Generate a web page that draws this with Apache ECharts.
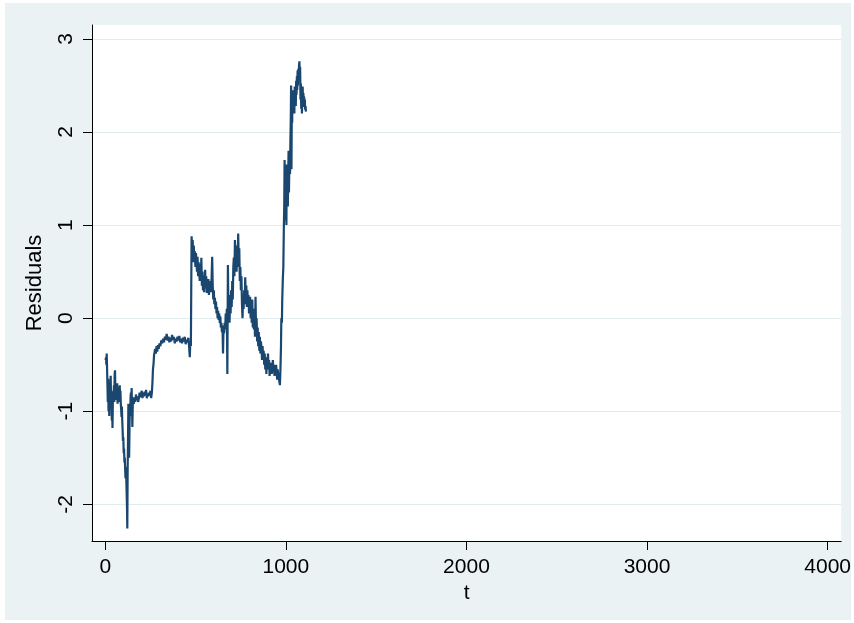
<!DOCTYPE html>
<html>
<head>
<meta charset="utf-8">
<script src="https://cdn.jsdelivr.net/npm/echarts@6/dist/echarts.min.js"></script>
<style>
  html, body { margin: 0; padding: 0; background: #ffffff; }
  #chart { width: 854px; height: 623px; }
</style>
</head>
<body>
<div id="chart"></div>
<script>
// Residuals over time t: [t, residual]
const residuals = [
  [2,-0.45],[4,-0.42],[6,-0.5],[8,-0.38],[10,-0.55],[12,-0.72],[14,-0.9],[16,-0.65],[18,-1.0],[20,-0.78],
  [22,-1.05],[24,-0.85],[26,-0.95],[28,-0.7],[30,-0.62],[32,-0.9],[34,-0.8],[36,-1.1],[38,-0.95],[40,-1.18],
  [42,-0.9],[44,-0.78],[46,-0.85],[48,-0.72],[50,-0.9],[52,-0.6],[54,-0.56],[56,-0.8],[58,-0.72],[60,-0.88],
  [62,-0.75],[64,-0.85],[66,-0.7],[68,-0.92],[70,-0.78],[72,-0.82],[74,-0.74],[76,-0.9],[78,-0.8],[80,-0.72],
  [82,-0.85],[84,-0.78],[86,-0.92],[88,-0.98],[90,-1.06],[92,-0.95],[94,-1.1],[96,-1.2],[98,-1.32],[100,-1.28],
  [102,-1.45],[104,-1.4],[106,-1.55],[108,-1.5],[110,-1.62],[112,-1.72],[114,-1.6],[116,-1.7],[118,-1.85],[120,-2.0],
  [122,-2.26],[124,-1.6],[126,-1.3],[128,-0.92],[130,-1.1],[132,-1.5],[134,-1.2],[136,-0.95],[138,-1.05],[140,-0.85],
  [142,-0.8],[144,-0.9],[146,-0.75],[148,-0.95],[150,-1.17],[152,-0.95],[154,-0.85],[158,-0.92],[162,-0.85],[166,-0.9],
  [170,-0.82],[174,-0.88],[178,-0.84],[182,-0.9],[186,-0.86],[190,-0.8],[194,-0.85],[198,-0.83],[202,-0.78],[206,-0.86],
  [210,-0.8],[214,-0.84],[218,-0.79],[222,-0.83],[226,-0.77],[230,-0.86],[234,-0.81],[238,-0.84],[242,-0.8],[246,-0.83],
  [250,-0.78],[254,-0.86],[258,-0.8],[261,-0.7],[264,-0.55],[267,-0.5],[270,-0.4],[273,-0.38],[276,-0.33],[280,-0.38],
  [284,-0.3],[288,-0.36],[292,-0.29],[296,-0.33],[300,-0.27],[305,-0.3],[310,-0.24],[315,-0.27],[320,-0.22],[325,-0.26],
  [330,-0.2],[335,-0.23],[340,-0.17],[345,-0.24],[350,-0.2],[355,-0.26],[360,-0.21],[365,-0.25],[370,-0.18],[375,-0.23],
  [380,-0.2],[385,-0.27],[390,-0.22],[395,-0.25],[400,-0.2],[405,-0.24],[410,-0.19],[415,-0.26],[420,-0.22],[425,-0.27],
  [430,-0.21],[435,-0.25],[440,-0.2],[445,-0.28],[450,-0.23],[455,-0.26],[460,-0.21],[464,-0.3],[468,-0.42],[471,-0.25],
  [474,-0.3],[476,0.3],[478,0.88],[481,0.75],[484,0.84],[487,0.6],[490,0.78],[493,0.65],[496,0.72],[499,0.55],
  [502,0.7],[505,0.62],[508,0.5],[511,0.66],[514,0.45],[517,0.6],[520,0.52],[523,0.4],[526,0.58],[529,0.42],
  [532,0.65],[535,0.35],[538,0.5],[541,0.3],[544,0.45],[547,0.28],[550,0.4],[553,0.52],[556,0.32],[559,0.45],
  [562,0.27],[565,0.38],[568,0.3],[571,0.42],[574,0.25],[577,0.35],[580,0.3],[583,0.4],[586,0.28],[589,0.45],
  [592,0.66],[595,0.35],[598,0.2],[601,0.3],[604,0.15],[607,0.22],[610,0.1],[613,0.18],[616,0.05],[619,0.12],
  [622,0.0],[625,0.08],[628,-0.02],[631,0.05],[634,-0.05],[637,0.02],[640,-0.1],[643,-0.05],[646,-0.15],[649,-0.08],
  [652,-0.38],[655,-0.1],[658,-0.16],[661,-0.05],[664,-0.12],[667,0.05],[670,-0.08],[673,0.1],[676,-0.6],[679,0.57],
  [682,0.1],[685,0.25],[688,-0.05],[691,0.2],[694,0.05],[697,0.3],[700,0.12],[703,0.4],[706,0.2],[709,0.55],
  [712,0.65],[715,0.45],[718,0.84],[721,0.6],[724,0.78],[727,0.5],[730,0.7],[733,0.55],[736,0.91],[739,0.62],
  [742,0.75],[745,0.4],[748,0.55],[751,0.3],[754,0.45],[757,0.15],[760,0.0],[763,0.2],[766,0.1],[769,0.3],
  [772,0.15],[775,0.44],[778,0.2],[781,0.35],[784,0.12],[787,0.3],[790,0.15],[793,0.25],[796,0.05],[799,0.2],
  [802,0.23],[805,0.0],[808,0.15],[811,-0.05],[814,0.2],[817,-0.1],[820,0.1],[823,-0.12],[826,0.05],[829,-0.2],
  [832,0.23],[835,-0.15],[838,0.0],[841,-0.25],[844,-0.1],[847,-0.3],[850,-0.15],[853,-0.35],[856,-0.2],[859,-0.38],
  [862,-0.25],[865,-0.32],[868,-0.45],[871,-0.3],[874,-0.42],[877,-0.35],[880,-0.5],[883,-0.38],[886,-0.55],[889,-0.42],
  [892,-0.6],[895,-0.45],[898,-0.5],[901,-0.38],[904,-0.55],[907,-0.45],[910,-0.62],[913,-0.5],[916,-0.58],[919,-0.48],
  [922,-0.6],[925,-0.52],[928,-0.45],[931,-0.58],[934,-0.5],[937,-0.62],[940,-0.55],[943,-0.6],[946,-0.5],[949,-0.58],
  [952,-0.66],[955,-0.55],[958,-0.62],[961,-0.6],[964,-0.68],[967,-0.72],[970,-0.55],[973,-0.3],[975,0.0],[978,-0.05],
  [980,0.2],[983,0.41],[986,0.55],[989,1.0],[991,1.2],[993,1.7],[995,1.05],[997,1.6],[999,1.25],[1001,1.5],
  [1003,1.0],[1005,1.65],[1007,1.3],[1009,1.58],[1011,1.2],[1013,1.55],[1015,1.8],[1017,1.35],[1019,1.6],[1021,1.75],
  [1023,1.55],[1025,1.9],[1027,2.1],[1029,2.5],[1031,1.6],[1033,2.3],[1035,2.1],[1037,2.45],[1039,2.2],[1041,2.4],
  [1043,2.25],[1045,2.35],[1047,2.2],[1049,2.49],[1051,2.3],[1053,2.45],[1055,2.28],[1057,2.55],[1059,2.4],[1061,2.6],
  [1063,2.45],[1065,2.66],[1067,2.5],[1069,2.68],[1071,2.58],[1073,2.72],[1075,2.76],[1077,2.6],[1079,2.7],[1081,2.35],
  [1083,2.52],[1085,2.25],[1087,2.45],[1089,2.2],[1091,2.35],[1093,2.49],[1095,2.3],[1097,2.42],[1099,2.27],[1101,2.38],
  [1103,2.3],[1105,2.35],[1107,2.24],[1109,2.28],[1111,2.22]
];

const xTicks = [0, 1000, 2000, 3000, 4000];
const yTicks = [-2, -1, 0, 1, 2, 3];
const xTitle = 't';
const yTitle = 'Residuals';

const FONT = 'Liberation Sans, Arial, sans-serif';
const chart = echarts.init(document.getElementById('chart'), null, { renderer: 'canvas' });

chart.setOption({
  animation: false,
  backgroundColor: '#ffffff',
  graphic: [{
    type: 'rect',
    z: -10,
    silent: true,
    shape: { x: 5, y: 3, width: 846, height: 617 },
    style: { fill: '#EAF2F3' }
  }],
  grid: {
    left: 92, top: 25, right: 11, bottom: 82,
    show: true, backgroundColor: '#ffffff', borderWidth: 0
  },
  xAxis: {
    type: 'value',
    min: -73.5, max: 4075,
    name: xTitle,
    nameLocation: 'middle',
    nameGap: 35,
    nameTextStyle: { fontFamily: FONT, fontSize: 21, color: '#000' },
    axisLine: { show: true, onZero: false, lineStyle: { color: '#000', width: 1 } },
    axisTick: { show: true, length: 9, customValues: xTicks, lineStyle: { color: '#000', width: 1 } },
    axisLabel: {
      customValues: xTicks, margin: 16, fontFamily: FONT, fontSize: 21, color: '#000',
      formatter: v => String(v)
    },
    splitLine: { show: false }
  },
  yAxis: {
    type: 'value',
    min: -2.394, max: 3.15,
    name: yTitle,
    nameLocation: 'middle',
    nameGap: 46,
    nameTextStyle: { fontFamily: FONT, fontSize: 22, color: '#000' },
    axisLine: { show: true, onZero: false, lineStyle: { color: '#000', width: 1 } },
    axisTick: { show: true, length: 9, customValues: yTicks, lineStyle: { color: '#000', width: 1 } },
    axisLabel: {
      customValues: yTicks, rotate: 90, margin: 15, fontFamily: FONT, fontSize: 21, color: '#000',
      formatter: v => String(v)
    },
    splitLine: { show: true, lineStyle: { color: '#E1ECEE', width: 1 } }
  },
  series: [{
    type: 'line',
    data: residuals,
    showSymbol: false,
    symbol: 'none',
    lineStyle: { color: '#1A476F', width: 2.2 },
    z: 5
  }]
});
</script>
</body>
</html>
